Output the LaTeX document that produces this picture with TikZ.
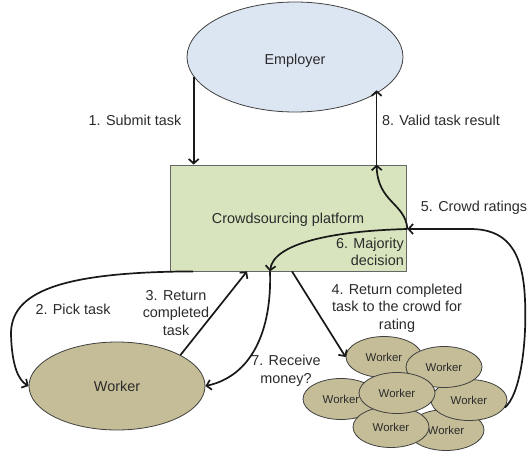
\documentclass[tikz,border=0pt]{standalone}
\usepackage{fontspec}
\setmainfont{Liberation Sans}
\usetikzlibrary{arrows.meta,calc,shapes.geometric}

\definecolor{empblue}{HTML}{DCE6F2}
\definecolor{platgreen}{HTML}{D7E4BD}
\definecolor{workkhaki}{HTML}{C4BD97}
\definecolor{inkgray}{HTML}{2B2B2B}
\definecolor{edgegray}{HTML}{404040}

\tikzset{
  every node/.style={text=inkgray},
  bigfont/.style={font=\fontsize{14.4}{17.5}\selectfont},
  smallfont/.style={font=\fontsize{11.4}{13}\selectfont},
  actor/.style={ellipse, draw=edgegray, line width=0.8pt, inner sep=0pt, bigfont},
  crowdmember/.style={ellipse, draw=edgegray, line width=0.8pt, fill=workkhaki,
    minimum width=76pt, minimum height=41pt, inner sep=0pt, smallfont},
  platbox/.style={rectangle, draw=edgegray!80, line width=0.8pt, fill=platgreen,
    minimum width=236pt, minimum height=106pt, inner sep=0pt, bigfont},
  lbl/.style={bigfont, align=center, inner sep=0pt},
  flow/.style={line width=1.7pt, draw=black!90, -{Straight Barb[length=4.5pt,width=10pt]}}
}

\begin{document}
\begin{tikzpicture}[x=1pt,y=-1pt]
  \useasboundingbox (0,0) rectangle (527,454);

  % main actors
  \node[actor, fill=empblue, minimum width=216pt, minimum height=110pt] (emp) at (295,57) {};
  \node[lbl] (empname) at ($(emp.center)+(0,4)$) {Employer};
  \node[platbox] (plat) at (288,218) {};
  \node[lbl] (platname) at ($(plat.center)+(0,2)$) {Crowdsourcing platform};
  \node[actor, fill=workkhaki, minimum width=176pt, minimum height=88pt] (wk) at (117,386) {Worker};

  % the crowd, drawn back to front
  \node[crowdmember] (w7) at (446,430) {Worker};
  \node[crowdmember] (w5) at (469,400) {Worker};
  \node[crowdmember] (w3) at (341,399) {Worker};
  \node[crowdmember] (w6) at (391,427) {Worker};
  \node[crowdmember] (w1) at (384,357) {Worker};
  \node[crowdmember] (w2) at (444,367) {Worker};
  \node[crowdmember] (w4) at (397,393) {Worker};

  % junction points on the platform border
  \coordinate (hub)  at ($(plat.east)+(1,11)$);
  \coordinate (r8)   at ($(plat.north west)+(207,0)$);
  \coordinate (pick) at ($(plat.south)+(-95,0)$);
  \coordinate (ret)  at ($(plat.south)+(-41,0)$);
  \coordinate (mid)  at ($(plat.south)+(-18,0)$);
  \coordinate (out4) at ($(plat.south)+(4,0)$);

  % 1 and 8
  \draw[flow] (emp.191) -- (emp.191 |- plat.north);
  \draw[flow] (r8) -- (r8 |- emp.339);
  \draw[flow] (hub) .. controls ($(hub)+(-2,-26)$) and ($(r8)+(1,38)$) .. (r8);

  % 2: pick task
  \draw[flow] (pick) .. controls (60,272) and (10,292) .. (11,335)
                     .. controls (12,365) and (18,380) .. (wk.west);
  % 3: return completed task
  \draw[flow] (wk.26) -- (ret);
  % 4: hand over to the crowd
  \draw[flow] (out4) -- (w1.west);
  % 5: crowd ratings
  \draw[flow] (w5.-12) .. controls (520,395) and (527,345) .. (525,300)
                      .. controls (523,248) and (505,229) .. (470,229) -- (hub);
  % 6: majority decision
  \draw[flow] (hub) .. controls (330,231) and (273,244) .. (mid);
  % 7: receive money
  \draw[flow] (mid) .. controls (272,330) and (252,376) .. (wk.east);

  % labels
  \node[lbl] (l1) at (135,120) {1. Submit task};
  \node[lbl] (l8) at (441,120) {8. Valid task result};
  \node[lbl] (l5) at (474,208) {5. Crowd ratings};
  \node[lbl, align=right, anchor=east] (l6) at (404,252) {6. Majority\\decision};
  \node[lbl] (l2) at (73,309) {2. Pick task};
  \node[lbl] (l3) at (176,313) {3. Return\\completed\\task};
  \node[lbl] (l4) at (397,308) {4. Return completed\\task to the crowd for\\rating};
  \node[lbl] (l7) at (286,371) {7. Receive\\money?};
\end{tikzpicture}
\end{document}
